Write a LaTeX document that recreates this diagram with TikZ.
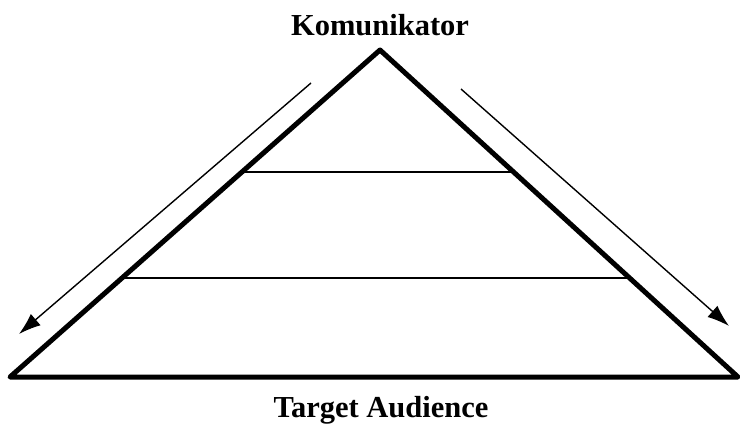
\documentclass[tikz,border=0pt]{standalone}
\usepackage{fontspec}
\setmainfont{Liberation Serif}
\usetikzlibrary{calc, arrows.meta}

\tikzset{
  label text/.style={font=\fontsize{30.5}{34}\selectfont\bfseries, inner sep=0pt, anchor=base},
  pyramid/.style={line width=5pt, line join=round, line cap=round},
  level line/.style={line width=1.5pt},
  flow arrow/.style={line width=1.4pt, -{Latex[length=22pt, width=15pt]}}
}

\begin{document}
\begin{tikzpicture}[x=1pt, y=-1pt]
\useasboundingbox (0, 0) rectangle (740, 425);

\coordinate (apex) at (380, 50);
\coordinate (baseL) at (10, 377);
\coordinate (baseR) at (738, 377);

\node[label text] (komunikator) at (380, 36) {Komunikator};
\node[label text] (target) at (381, 417) {Target Audience};

\draw[pyramid] (baseL) -- (apex) -- (baseR) -- cycle;

% levels
\draw[level line] ($(baseL)!0.627!(apex)$) -- ($(baseR)!0.627!(apex)$);
\draw[level line] ($(baseL)!0.303!(apex)$) -- ($(baseR)!0.303!(apex)$);

\coordinate (leftTop) at (311, 83);
\coordinate (leftEnd) at (19, 334);
\draw[flow arrow] (leftTop) -- (leftEnd);

\coordinate (rightTop) at (461, 89);
\coordinate (rightEnd) at (729, 326);
\draw[flow arrow] (rightTop) -- (rightEnd);

\end{tikzpicture}
\end{document}
